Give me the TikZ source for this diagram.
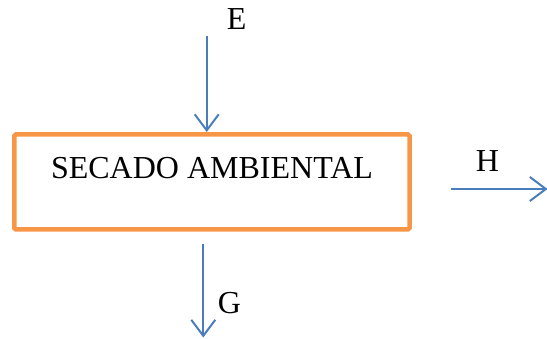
\documentclass[tikz,border=0pt]{standalone}
\usepackage{fontspec}
\setmainfont{Liberation Serif}
\usetikzlibrary{arrows.meta}
\definecolor{flowblue}{HTML}{4A7EBB}
\definecolor{boxorange}{HTML}{F79646}
\tikzset{
  flow/.style={draw=flowblue, line width=2pt, -{Straight Barb[length=16pt,width=24pt,line width=2pt]}},
  lbl/.style={font=\fontsize{32}{38}\selectfont, anchor=base, inner sep=0pt},
  procbox/.style={draw=boxorange, line width=4.5pt, rounded corners=1.5pt}
}
\begin{document}
\begin{tikzpicture}[x=1pt,y=-1pt]
\useasboundingbox (0,0) rectangle (547,339);
\draw[procbox] (14.3,134.5) rectangle (409.5,229.5);
\node[lbl] (title) at (212,178.3) {SECADO AMBIENTAL};
\coordinate (boxtop) at (206.7,132);
\coordinate (etail) at (206.7,36);
\draw[flow] (etail) -- (boxtop);
\node[lbl] (E) at (236.7,29.3) {E};
\coordinate (htail) at (450.7,189);
\coordinate (htip) at (547.5,189);
\draw[flow] (htail) -- (htip);
\node[lbl] (H) at (487.5,171.8) {H};
\coordinate (gtail) at (203.3,244);
\coordinate (gtip) at (203.3,337.5);
\draw[flow] (gtail) -- (gtip);
\node[lbl] (G) at (229.5,313.3) {G};
\end{tikzpicture}
\end{document}
